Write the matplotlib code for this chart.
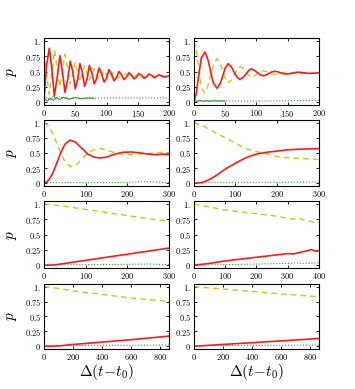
import matplotlib
matplotlib.use("Agg")
import matplotlib.pyplot as plt

plt.rcParams['mathtext.fontset'] = 'cm'
plt.rcParams['font.family'] = 'DejaVu Serif'

# ---- panel data ----
# row 1, left
t1_red = [0, 4, 8.5, 12.5, 16.5, 21, 25.5, 29.5, 33.5, 38, 42, 46, 50, 54, 57.5, 61, 65, 69, 72.5, 76.5,
          80.5, 84, 88, 92, 96, 100, 104, 108, 112, 116, 120, 124, 128, 132, 136, 140, 144, 148, 152,
          156, 160, 164, 168, 172, 176, 180, 184, 188, 192, 196, 200]
p1_red = [0.02, 0.6, 0.88, 0.55, 0.10, 0.4, 0.76, 0.5, 0.16, 0.38, 0.67, 0.5, 0.22, 0.38, 0.63, 0.5,
          0.26, 0.38, 0.60, 0.48, 0.30, 0.38, 0.56, 0.47, 0.33, 0.39, 0.53, 0.46, 0.35, 0.4, 0.50, 0.45,
          0.37, 0.41, 0.48, 0.44, 0.38, 0.41, 0.47, 0.44, 0.39, 0.41, 0.46, 0.44, 0.40, 0.42, 0.45, 0.43,
          0.41, 0.42, 0.43]
t1_yel = [0, 4, 8.5, 12.5, 17, 21, 25.5, 29.5, 33.5, 38, 42, 46, 50, 54, 57.5, 61, 65, 69, 72.5, 76.5,
          80.5, 84, 88, 92, 96, 100, 104, 108, 112, 116, 120, 130, 140, 150, 160, 170, 180, 190, 200]
p1_yel = [0.82, 0.45, 0.13, 0.5, 0.85, 0.55, 0.25, 0.5, 0.78, 0.52, 0.30, 0.47, 0.66, 0.48, 0.33, 0.46,
          0.60, 0.46, 0.36, 0.45, 0.55, 0.45, 0.37, 0.44, 0.52, 0.44, 0.38, 0.44, 0.49, 0.44, 0.40, 0.46,
          0.41, 0.45, 0.42, 0.44, 0.42, 0.43, 0.42]
t1_grn = [0, 5, 10, 15, 20, 25, 30, 35, 40, 50, 60, 70, 80, 90, 100, 120, 140, 160, 180, 200]
p1_grn = [0.03, 0.08, 0.04, 0.10, 0.05, 0.09, 0.06, 0.09, 0.06, 0.08, 0.06, 0.075, 0.065, 0.07, 0.07,
          0.07, 0.07, 0.07, 0.07, 0.07]
t1_grn2 = [0, 5, 10, 15, 20, 25, 30, 40, 50, 60, 70, 80]
p1_grn2 = [0.06, 0.02, 0.07, 0.03, 0.08, 0.04, 0.08, 0.05, 0.075, 0.06, 0.07, 0.065]

# row 1, right
t2_red = [0, 4, 8, 12, 18, 23, 27, 31, 37, 42, 46, 50, 55, 60, 64, 69, 74, 78, 83, 88, 92, 97, 101,
          106, 111, 116, 120, 125, 130, 135, 139, 144, 148, 153, 158, 163, 167, 172, 176, 185, 200]
p2_red = [0.0, 0.15, 0.45, 0.72, 0.82, 0.68, 0.5, 0.32, 0.23, 0.3, 0.42, 0.55, 0.63, 0.58, 0.5, 0.41,
          0.37, 0.4, 0.45, 0.52, 0.545, 0.52, 0.49, 0.45, 0.43, 0.445, 0.47, 0.495, 0.505, 0.495, 0.48,
          0.465, 0.46, 0.465, 0.475, 0.485, 0.49, 0.485, 0.48, 0.47, 0.48]
t2_yel = [0, 4, 8, 12, 17, 22, 27, 32, 37, 42, 46, 50, 55, 60, 64, 69, 74, 78, 83, 88, 92, 97, 101,
          106, 111, 116, 120, 125, 130, 139, 148, 160, 175, 200]
p2_yel = [1.0, 0.85, 0.55, 0.25, 0.15, 0.25, 0.45, 0.63, 0.71, 0.64, 0.52, 0.4, 0.32, 0.36, 0.44,
          0.53, 0.58, 0.56, 0.5, 0.44, 0.41, 0.43, 0.46, 0.49, 0.51, 0.5, 0.48, 0.46, 0.45, 0.47, 0.49,
          0.475, 0.47, 0.47]
t2_grn = [0, 50, 100, 150, 200]
p2_grn = [0.02, 0.02, 0.02, 0.025, 0.03]
t2_grn2 = [0, 5, 10, 15, 20, 25, 30, 40, 50]
p2_grn2 = [0.03, 0.015, 0.03, 0.015, 0.028, 0.018, 0.025, 0.02, 0.022]

# row 2, left
t3_red = [0, 10, 20, 30, 40, 50, 62, 75, 90, 105, 120, 135, 150, 170, 190, 210, 230, 250, 270, 285, 300]
p3_red = [0.0, 0.04, 0.15, 0.32, 0.5, 0.64, 0.71, 0.68, 0.58, 0.48, 0.43, 0.415, 0.43, 0.48, 0.51,
          0.515, 0.5, 0.48, 0.47, 0.48, 0.47]
t3_yel = [0, 10, 20, 30, 40, 50, 65, 80, 95, 110, 125, 135, 150, 170, 190, 210, 230, 250, 270, 285, 300]
p3_yel = [1.0, 0.95, 0.83, 0.67, 0.5, 0.36, 0.27, 0.32, 0.43, 0.52, 0.56, 0.57, 0.55, 0.5, 0.47, 0.47,
          0.48, 0.49, 0.5, 0.51, 0.5]
t3_grn = [0, 100, 200, 220, 240, 260, 300]
p3_grn = [0.01, 0.01, 0.01, 0.02, 0.03, 0.02, 0.01]

# row 2, right
t4_red = [0, 20, 34, 50, 75, 100, 125, 150, 175, 200, 225, 250, 275, 300]
p4_red = [0.0, 0.01, 0.05, 0.11, 0.23, 0.33, 0.42, 0.48, 0.51, 0.53, 0.55, 0.56, 0.565, 0.57]
t4_yel = [0, 20, 34, 50, 75, 100, 125, 150, 175, 200, 225, 250, 275, 300]
p4_yel = [1.0, 0.95, 0.9, 0.84, 0.75, 0.66, 0.57, 0.52, 0.48, 0.44, 0.42, 0.41, 0.4, 0.39]
t4_grn = [0, 100, 200, 300]
p4_grn = [0.01, 0.015, 0.015, 0.02]

# row 3, left
t5_red = [0, 25, 50, 100, 150, 200, 250, 300]
p5_red = [0.0, 0.005, 0.03, 0.08, 0.13, 0.18, 0.23, 0.28]
t5_yel = [0, 50, 100, 150, 200, 250, 300]
p5_yel = [1.0, 0.96, 0.91, 0.86, 0.81, 0.76, 0.72]
t5_grn = [0, 100, 200, 250, 300]
p5_grn = [0.01, 0.01, 0.015, 0.02, 0.01]

# row 3, right
t6_red = [0, 50, 100, 150, 200, 250, 300, 320, 340, 360, 375, 385, 392, 400]
p6_red = [0.0, 0.03, 0.07, 0.1, 0.13, 0.16, 0.19, 0.185, 0.21, 0.23, 0.255, 0.24, 0.225, 0.24]
t6_yel = [0, 50, 100, 150, 200, 250, 300, 320, 335, 350, 370, 385, 400]
p6_yel = [1.0, 0.95, 0.9, 0.87, 0.84, 0.81, 0.77, 0.75, 0.77, 0.74, 0.72, 0.7, 0.7]
t6_grn = [0, 100, 200, 300, 330, 345, 400]
p6_grn = [0.005, 0.01, 0.02, 0.03, 0.04, 0.025, 0.04]

# row 4, left
t7_red = [0, 100, 200, 400, 600, 860]
p7_red = [0.0, 0.005, 0.03, 0.07, 0.11, 0.17]
t7_yel = [0, 100, 200, 400, 600, 860]
p7_yel = [1.0, 0.97, 0.93, 0.87, 0.81, 0.75]
t7_grn = [0, 860]
p7_grn = [0.01, 0.02]

# row 4, right
t8_red = [0, 200, 400, 600, 860]
p8_red = [0.0, 0.03, 0.06, 0.09, 0.13]
t8_yel = [0, 200, 400, 600, 860]
p8_yel = [1.0, 0.96, 0.92, 0.88, 0.83]
t8_grn = [0, 860]
p8_grn = [0.01, 0.02]

xmax = [200, 200, 300, 300, 300, 400, 860, 860]
xticks = [[0, 50, 100, 150, 200], [0, 50, 100, 150, 200],
          [0, 100, 200, 300], [0, 100, 200, 300],
          [0, 100, 200, 300], [0, 100, 200, 300, 400],
          [0, 200, 400, 600, 800], [0, 200, 400, 600, 800]]
yticks = [0, 0.25, 0.5, 0.75, 1]
ytick_labels = ['0', '0.25', '0.5', '0.75', '1.']

panels = [
    (t1_red, p1_red, t1_yel, p1_yel, [(t1_grn, p1_grn, ':'), (t1_grn2, p1_grn2, '-')]),
    (t2_red, p2_red, t2_yel, p2_yel, [(t2_grn, p2_grn, ':'), (t2_grn2, p2_grn2, '-')]),
    (t3_red, p3_red, t3_yel, p3_yel, [(t3_grn, p3_grn, ':')]),
    (t4_red, p4_red, t4_yel, p4_yel, [(t4_grn, p4_grn, ':')]),
    (t5_red, p5_red, t5_yel, p5_yel, [(t5_grn, p5_grn, ':')]),
    (t6_red, p6_red, t6_yel, p6_yel, [(t6_grn, p6_grn, ':')]),
    (t7_red, p7_red, t7_yel, p7_yel, [(t7_grn, p7_grn, ':')]),
    (t8_red, p8_red, t8_yel, p8_yel, [(t8_grn, p8_grn, ':')]),
]

RED = '#ff1a1a'
YEL = '#c8c81e'
GRN = '#2e9a2e'

fig = plt.figure(figsize=(3.55, 3.89), dpi=100)
lefts = [0.124, 0.546]
width = 0.352
rows = [(0.730, 0.172), (0.522, 0.170), (0.311, 0.172), (0.103, 0.167)]


def fmt(v):
    return '$' + str(v) + '$'


for i, (tr, pr, ty, py, greens) in enumerate(panels):
    r, c = divmod(i, 2)
    ax = fig.add_axes([lefts[c], rows[r][0], width, rows[r][1]])
    for tg, pg, ls in greens:
        ax.plot(tg, pg, color=GRN, lw=0.8, ls=ls)
    ax.plot(ty, py, color=YEL, lw=1.0, ls=(0, (4, 3)))
    ax.plot(tr, pr, color=RED, lw=1.2)
    ax.set_xlim(0, xmax[i])
    ax.set_ylim(-0.045, 1.045)
    ax.set_xticks(xticks[i])
    ax.set_xticklabels([fmt(v) for v in xticks[i]])
    ax.set_yticks(yticks)
    ax.set_yticklabels([fmt(s) for s in ytick_labels])
    ax.tick_params(direction='in', length=2.5, width=0.6, labelsize=6, pad=2,
                   top=True, right=True)
    for sp in ax.spines.values():
        sp.set_linewidth(0.8)
    if c == 0:
        ax.set_ylabel('$p$', fontsize=11)
        ax.yaxis.set_label_coords(-0.2, 0.5)
    if r == 3:
        ax.set_xlabel(r'$\Delta(t\!-\!t_0)$', fontsize=11)
        ax.xaxis.set_label_coords(0.5, -0.2)

fig.savefig('out.png', dpi=100)
